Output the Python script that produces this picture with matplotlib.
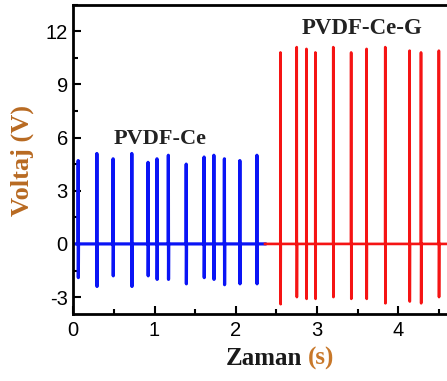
import matplotlib
matplotlib.use("Agg")
import matplotlib.pyplot as plt
import numpy as np
from matplotlib.ticker import MultipleLocator

# spike data: time (s), peak (V), trough (V)
ce_times = [0.06, 0.29, 0.49, 0.72, 0.92, 1.03, 1.17, 1.39, 1.61, 1.73, 1.86, 2.05, 2.26]
ce_peaks = [4.7, 5.1, 4.8, 5.1, 4.6, 4.8, 5.0, 4.5, 4.9, 5.0, 4.8, 4.7, 5.0]
ce_troughs = [-1.9, -2.4, -1.8, -2.4, -1.8, -2.0, -2.0, -2.25, -1.9, -2.0, -2.3, -2.25, -2.25]
ce_span = [0.0, 2.36]

ceg_times = [2.55, 2.75, 2.87, 2.98, 3.20, 3.42, 3.61, 3.84, 4.14, 4.28, 4.50]
ceg_peaks = [10.8, 11.1, 11.0, 10.8, 11.1, 10.8, 11.0, 11.1, 10.9, 10.8, 10.9]
ceg_troughs = [-3.4, -3.0, -3.1, -3.1, -3.0, -3.1, -3.1, -3.35, -3.25, -3.35, -3.0]
ceg_span = [2.36, 4.7]


def trace(times, peaks, troughs, span, w=0.002):
    # baseline at 0 with a narrow up/down spike at each event
    t, v = [span[0]], [0.0]
    for ti, p, n in zip(times, peaks, troughs):
        t += [ti - w, ti, ti + w, ti + 2 * w]
        v += [0.0, p, n, 0.0]
    t.append(span[1])
    v.append(0.0)
    return np.array(t), np.array(v)


plt.rcParams["font.family"] = "Liberation Sans"
plt.rcParams["axes.unicode_minus"] = False

fig = plt.figure(figsize=(4.47, 3.81), dpi=100)
ax = fig.add_axes([0.164, 0.176, 0.836, 0.812])

t1, v1 = trace(ce_times, ce_peaks, ce_troughs, ce_span)
t2, v2 = trace(ceg_times, ceg_peaks, ceg_troughs, ceg_span)
ax.plot(t1, v1, color="#0a14f5", lw=2.3)
ax.plot(t2, v2, color="#f51414", lw=1.9)

ax.set_xlim(0, 4.6)
ax.set_ylim(-3.95, 13.5)
ax.xaxis.set_major_locator(MultipleLocator(1))
ax.xaxis.set_minor_locator(MultipleLocator(0.5))
ax.yaxis.set_major_locator(MultipleLocator(3))
ax.yaxis.set_minor_locator(MultipleLocator(1.5))
ax.tick_params(which="both", direction="in", width=1.5, labelsize=14.5, pad=5)
ax.tick_params(which="major", length=6)
ax.tick_params(which="minor", length=3.5)
ax.tick_params(axis="y", pad=4)
for side in ["left", "bottom", "top"]:
    ax.spines[side].set_linewidth(2)
ax.spines["right"].set_visible(False)

ax.text(1.07, 5.9, "PVDF-Ce", family="Liberation Serif", weight="bold",
        fontsize=16, color="#222222", ha="center", va="center")
ax.text(3.56, 12.15, "PVDF-Ce-G", family="Liberation Serif", weight="bold",
        fontsize=16.5, color="#222222", ha="center", va="center")

fig.text(0.05, 0.578, "Voltaj (V)", family="Liberation Serif", weight="bold",
         fontsize=19, color="#b86a22", rotation=90, ha="center", va="center")
fig.text(0.675, 0.058, "Zaman", family="Liberation Serif", weight="bold",
         fontsize=18, color="#1a1a1a", ha="right", va="center")
fig.text(0.688, 0.058, "(s)", family="Liberation Serif", weight="bold",
         fontsize=18, color="#c8782a", ha="left", va="center")

fig.savefig("out.png", dpi=100)
